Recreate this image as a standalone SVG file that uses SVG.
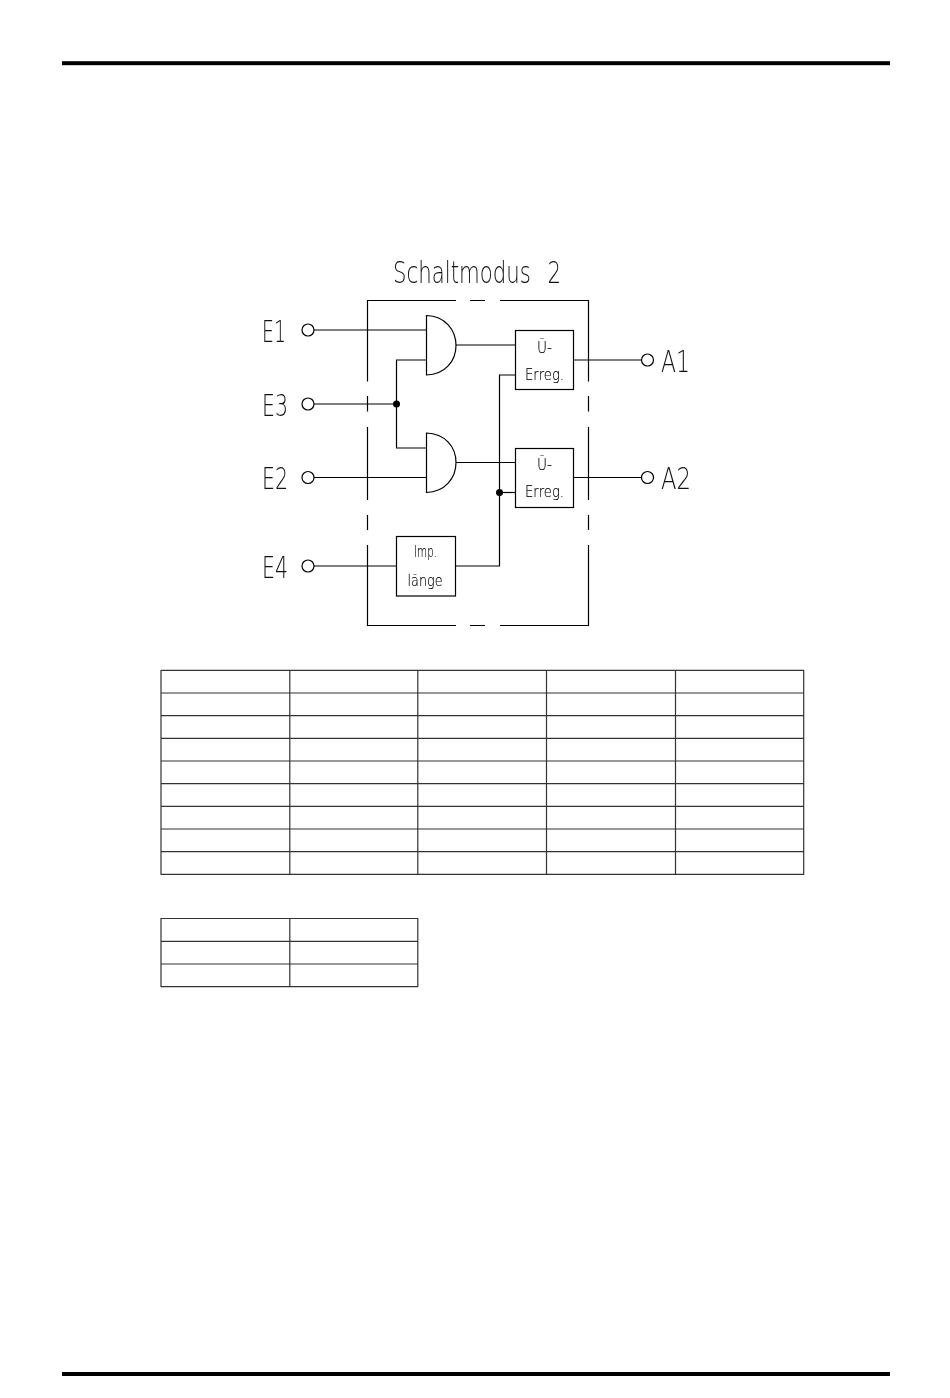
<svg xmlns="http://www.w3.org/2000/svg" width="950" height="1398" viewBox="0 0 950 1398">
<defs><filter id="gray" x="0" y="0" width="1" height="1" color-interpolation-filters="sRGB"><feOffset dx="0" dy="0"/></filter></defs>
<style>
.l{fill:none;stroke:#000;stroke-width:1.2}
.t{fill:none;stroke:#333;stroke-width:1.2}
.d{fill:#000;stroke:none}
text{font-family:"DejaVu Sans","Liberation Sans",sans-serif;font-weight:200;fill:#111;text-anchor:middle}
.big{font-size:30px;text-anchor:start;word-spacing:14px}
.mid{font-size:31px}
.sm{font-size:16px;fill:#000;stroke:#000;stroke-width:.15}
</style>
<rect width="950" height="1398" fill="#fff"/>
<g id="rules">
<rect x="62" y="61.2" width="828" height="4" fill="#000"/>
<rect x="62" y="1372" width="828" height="4" fill="#000"/>
</g>
<g filter="url(#gray)"><text id="title" class="big" x="393" y="283" textLength="168" lengthAdjust="spacingAndGlyphs">Schaltmodus 2</text></g>
<g id="frame" class="l">
<path d="M367.5 381.5V300.5H456M470 300.5H485M500 300.5H588.5V381.5M367.5 396V411.5M367.5 427V500M367.5 515V530M367.5 545V625.5H456M470 625.5H485M500 625.5H588.5V545M588.5 530V515M588.5 500V427M588.5 411.5V396"/>
</g>
<g id="connectors" class="l">
<path d="M314 330H426.5"/>
<path d="M314 404H396.5"/>
<path d="M426.5 360H396.5V448H426.5"/>
<path d="M314 477.5H426.5"/>
<path d="M314 566H396.5"/>
<path d="M456 345H515.5"/>
<path d="M456 462.5H515.5"/>
<path d="M515.5 375H499.5V566H456"/>
<path d="M499.5 492.5H515.5"/>
<path d="M573.5 360H642"/>
<path d="M573.5 477.5H642"/>
<circle class="d" cx="396.5" cy="404" r="3.5"/>
<circle class="d" cx="499.5" cy="492.5" r="3.5"/>
</g>
<g id="E1"><circle class="l" cx="308" cy="330" r="6"/><text class="mid" x="274" y="342" textLength="24" lengthAdjust="spacingAndGlyphs" filter="url(#gray)">E1</text></g>
<g id="E3"><circle class="l" cx="308" cy="404" r="6"/><text class="mid" x="275" y="416" textLength="26" lengthAdjust="spacingAndGlyphs" filter="url(#gray)">E3</text></g>
<g id="E2"><circle class="l" cx="308" cy="477.5" r="6"/><text class="mid" x="275" y="489" textLength="26" lengthAdjust="spacingAndGlyphs" filter="url(#gray)">E2</text></g>
<g id="E4"><circle class="l" cx="308" cy="566" r="6"/><text class="mid" x="275" y="578" textLength="26" lengthAdjust="spacingAndGlyphs" filter="url(#gray)">E4</text></g>
<g id="A1"><circle class="l" cx="647.5" cy="360" r="6"/><text class="mid" x="675.5" y="372" textLength="29" lengthAdjust="spacingAndGlyphs" filter="url(#gray)">A1</text></g>
<g id="A2"><circle class="l" cx="647.5" cy="477.5" r="6"/><text class="mid" x="676" y="489" textLength="30" lengthAdjust="spacingAndGlyphs" filter="url(#gray)">A2</text></g>
<g id="and1"><path class="l" d="M426.5 315.5C445 316 456 330 456 345.5C456 361 445 374.5 426.5 375Z"/></g>
<g id="and2"><path class="l" d="M426.5 433C445 433.5 456 447 456 462.5C456 478 445 492 426.5 492.5Z"/></g>
<g id="erreg1"><rect class="l" x="515.5" y="330.5" width="58" height="59"/><text class="sm" x="544.5" y="353" textLength="15" lengthAdjust="spacingAndGlyphs" filter="url(#gray)">Ü-</text><text class="sm" x="544.5" y="380" textLength="39" lengthAdjust="spacingAndGlyphs" filter="url(#gray)">Erreg.</text></g>
<g id="erreg2"><rect class="l" x="515.5" y="448.5" width="58" height="59"/><text class="sm" x="544.5" y="470" textLength="15" lengthAdjust="spacingAndGlyphs" filter="url(#gray)">Ü-</text><text class="sm" x="544.5" y="497" textLength="39" lengthAdjust="spacingAndGlyphs" filter="url(#gray)">Erreg.</text></g>
<g id="imp"><rect class="l" x="396.5" y="536.5" width="59" height="59.5"/><text class="sm" x="425.5" y="557" textLength="23" lengthAdjust="spacingAndGlyphs" filter="url(#gray)">Imp.</text><text class="sm" x="425" y="586" textLength="35" lengthAdjust="spacingAndGlyphs" filter="url(#gray)">länge</text></g>
<g id="table1" class="t">
<path d="M161 670.3H804M161 693H804M161 715.7H804M161 738.3H804M161 761H804M161 783.7H804M161 806.3H804M161 829H804M161 851.7H804M161 874.3H804"/>
<path d="M161 670V874.8M289.8 670V874.8M417.8 670V874.8M546.5 670V874.8M675.5 670V874.8M803.7 670V874.8"/>
</g>
<g id="table2" class="t">
<path d="M161 918.5H418M161 941.3H418M161 964H418M161 986.7H418"/>
<path d="M161 918V987M289.8 918V987M417.8 918V987"/>
</g>
</svg>
